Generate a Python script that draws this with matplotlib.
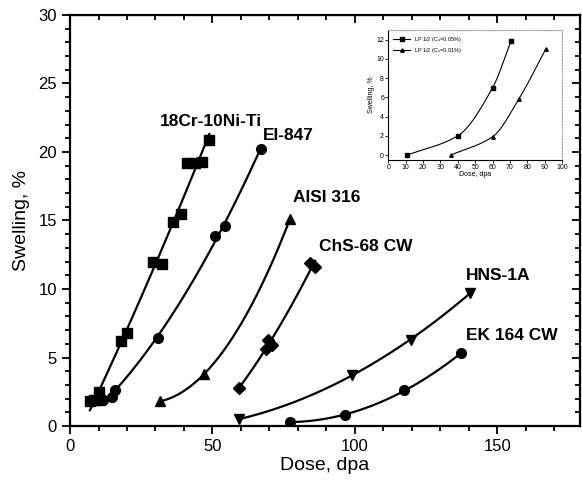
import matplotlib
matplotlib.use("Agg")
import matplotlib.pyplot as plt
import numpy as np
from matplotlib.ticker import MultipleLocator

plt.rcParams['font.family'] = ['Liberation Sans', 'DejaVu Sans']

# main chart data (dose in dpa, swelling in %)
cr_x = [7.0, 8.5, 10.0, 10.5, 17.9, 19.9, 29.2, 32.2, 36.2, 38.8, 40.9, 43.9, 46.4, 48.9]
cr_y = [1.8, 1.9, 2.5, 1.9, 6.2, 6.8, 12.0, 11.8, 14.9, 15.5, 19.2, 19.2, 19.3, 20.9]

ei_x = [11.7, 14.6, 15.8, 30.8, 50.9, 54.4, 66.9]
ei_y = [1.9, 2.1, 2.6, 6.4, 13.9, 14.6, 20.2]

aisi_x = [31.6, 47.1, 77.2]
aisi_y = [1.8, 3.8, 15.1]

chs_x = [59.3, 68.8, 69.6, 70.8, 84.2, 86.0]
chs_y = [2.8, 5.6, 6.3, 5.9, 11.9, 11.6]

hns_x = [59.4, 98.8, 119.6, 140.4]
hns_y = [0.5, 3.7, 6.3, 9.7]

ek_x = [77.2, 96.5, 117.2, 137.2]
ek_y = [0.3, 0.8, 2.6, 5.3]

# inset data
lp1_x = [11, 40, 60, 70.5]
lp1_y = [0.0, 2.0, 7.0, 11.8]
lp2_x = [36, 60, 75, 90.5]
lp2_y = [0.0, 1.9, 5.8, 11.0]

fig = plt.figure(figsize=(5.82, 4.83), dpi=100)
ax = fig.add_axes([0.1203, 0.118, 0.8763, 0.851])


def curve(a, x, y, marker, ms=7, deg=2, lw=1.6):
    c = np.polyfit(x, y, deg)
    xs = np.linspace(min(x), max(x), 200)
    a.plot(xs, np.polyval(c, xs), color='black', lw=lw, zorder=2)
    a.plot(x, y, ls='none', marker=marker, ms=ms, color='black', zorder=3)


def smooth(x, y, n=200):
    # monotone cubic (Fritsch-Carlson) through the points
    x = np.asarray(x, float)
    y = np.asarray(y, float)
    h = np.diff(x)
    d = np.diff(y) / h
    m = np.zeros_like(y)
    m[0], m[-1] = d[0], d[-1]
    for i in range(1, len(x) - 1):
        m[i] = 0 if d[i - 1] * d[i] <= 0 else 2 / (1 / d[i - 1] + 1 / d[i])
    xs = np.linspace(x[0], x[-1], n)
    k = np.clip(np.searchsorted(x, xs) - 1, 0, len(h) - 1)
    t = (xs - x[k]) / h[k]
    ys = ((2 * t**3 - 3 * t**2 + 1) * y[k] + (t**3 - 2 * t**2 + t) * h[k] * m[k]
          + (-2 * t**3 + 3 * t**2) * y[k + 1] + (t**3 - t**2) * h[k] * m[k + 1])
    return xs, ys


curve(ax, cr_x, cr_y, 's')
curve(ax, ei_x, ei_y, 'o')
curve(ax, aisi_x, aisi_y, '^')
curve(ax, chs_x, chs_y, 'D', ms=6.5)
curve(ax, hns_x, hns_y, 'v')
curve(ax, ek_x, ek_y, 'o')

lab = dict(fontsize=12.5, fontweight='bold', va='center', ha='left')
ax.text(31.6, 22.2, '18Cr-10Ni-Ti', **lab)
ax.text(67.7, 21.2, 'EI-847', **lab)
ax.text(78.2, 16.7, 'AISI 316', **lab)
ax.text(87.4, 13.1, 'ChS-68 CW', **lab)
ax.text(139, 11.0, 'HNS-1A', **lab)
ax.text(139, 6.6, 'EK 164 CW', **lab)

ax.set_xlim(0, 179)
ax.set_ylim(0, 30)
ax.xaxis.set_major_locator(MultipleLocator(50))
ax.xaxis.set_minor_locator(MultipleLocator(10))
ax.yaxis.set_major_locator(MultipleLocator(5))
ax.yaxis.set_minor_locator(MultipleLocator(1))
ax.tick_params(which='both', direction='out', width=1.3, labelsize=12, top=False, right=False)
ax.tick_params(which='major', length=6)
ax.tick_params(which='minor', length=3.5)
for s in ax.spines.values():
    s.set_linewidth(1.6)
ax.set_xlabel('Dose, dpa', fontsize=14, labelpad=2)
ax.set_ylabel('Swelling, %', fontsize=14, labelpad=6)

# right and top sides with inward ticks
ax2 = ax.secondary_yaxis('right')
ax2.yaxis.set_major_locator(MultipleLocator(5))
ax2.yaxis.set_minor_locator(MultipleLocator(1))
ax2.tick_params(which='both', direction='in', width=1.3, labelright=False)
ax2.tick_params(which='major', length=6)
ax2.tick_params(which='minor', length=3.5)
ax3 = ax.secondary_xaxis('top')
ax3.xaxis.set_major_locator(MultipleLocator(50))
ax3.xaxis.set_minor_locator(MultipleLocator(10))
ax3.tick_params(which='both', direction='in', width=1.3, labeltop=False)
ax3.tick_params(which='major', length=6)
ax3.tick_params(which='minor', length=3.5)

# inset
ins = fig.add_axes([0.667, 0.669, 0.299, 0.269])
for x, y, m, lbl in [(lp1_x, lp1_y, 's', 'LP 1/2 (C$_s$=0.05%)'),
                     (lp2_x, lp2_y, '^', 'LP 1/2 (C$_s$=0.01%)')]:
    xs, ys = smooth(x, y)
    ins.plot(xs, ys, color='black', lw=0.8)
    ins.plot(x, y, ls='none', marker=m, ms=2.5, color='black')
    ins.plot([], [], color='black', lw=0.8, marker=m, ms=2.5, label=lbl)
ins.set_xlim(0, 100)
ins.set_ylim(-0.5, 13)
ins.xaxis.set_major_locator(MultipleLocator(10))
ins.yaxis.set_major_locator(MultipleLocator(2))
ins.tick_params(labelsize=5, length=2, width=0.6, pad=1)
ins.set_xlabel('Dose, dpa', fontsize=5, labelpad=0)
ins.set_ylabel('Swelling, %', fontsize=5, labelpad=1)
for s in ['left', 'bottom']:
    ins.spines[s].set_linewidth(0.8)
for s in ['top', 'right']:
    ins.spines[s].set_linestyle(':')
    ins.spines[s].set_color('#999999')
ins.legend(loc='upper left', fontsize=4, frameon=False, handlelength=3,
           borderaxespad=0.5, labelspacing=0.3)

fig.savefig('out.png', dpi=100)
